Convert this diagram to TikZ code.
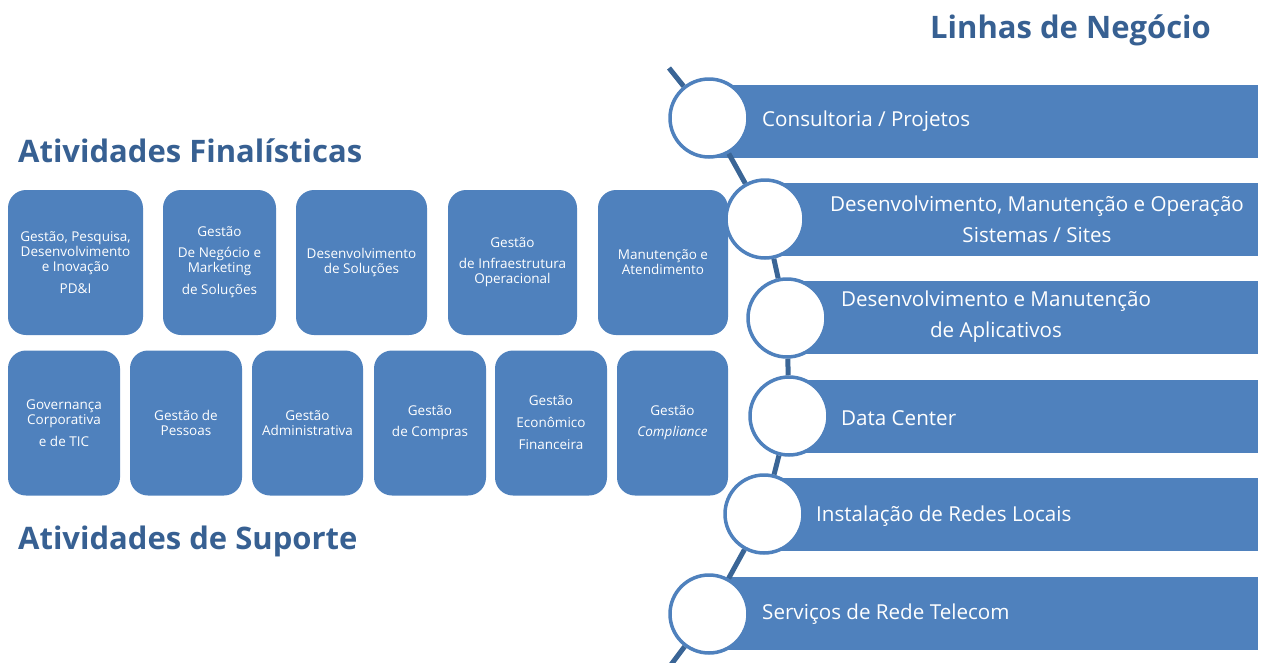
\documentclass[tikz,border=0pt]{standalone}
\usepackage{fontspec}
\setmainfont{Open Sans}
\usetikzlibrary{graphs}
\definecolor{caixa}{HTML}{4F81BD}
\definecolor{titulo}{HTML}{376092}
\definecolor{eixo}{HTML}{3A6596}
\tikzset{
    atividade/.style ={
        shape=rectangle,
        rounded corners=18pt,
        fill=caixa,
        text=white,
        align=center,
        inner sep=0pt,
        font=\fontsize{13.5}{15}\selectfont,
        minimum height=145pt
    },
    barra/.style ={
        shape=rectangle,
        fill=caixa,
        anchor=west,
        inner sep=0pt,
        minimum height=73pt
    },
    marco/.style ={
        shape=circle,
        draw=caixa,
        line width=3.5pt,
        fill=white,
        inner sep=0pt,
        minimum size=78pt
    },
    linha/.style ={
        text=white,
        align=center,
        inner sep=0pt,
        font=\fontsize{20.6}{31}\selectfont
    },
    cabecalho/.style ={
        anchor=base west,
        text=titulo,
        inner sep=0pt,
        font=\bfseries\fontsize{31}{36}\selectfont
    }
}

\begin{document}
\begin{tikzpicture}[x=1pt,y=-1pt]
    \useasboundingbox (0,0) rectangle (1267,662);
    \node[cabecalho] (negocios) at (930,38) {Linhas de Negócio};
    \node[cabecalho] (finalisticas) at (18,162) {Atividades Finalísticas};
    \node[cabecalho] (suporte) at (18,549) {Atividades de Suporte};
    \node[atividade, minimum width=135pt] (pdi) at (75.5,262.5) {Gestão, Pesquisa,\\Desenvolvimento\\e Inovação\\[7pt]PD\&I};
    \node[atividade, minimum width=113pt] (negocio) at (219.5,262.5) {Gestão\\[6pt]De Negócio e\\Marketing\\[7pt]de Soluções};
    \node[atividade, minimum width=131pt] (solucoes) at (361.5,262.5) {Desenvolvimento\\de Soluções};
    \node[atividade, minimum width=129pt] (infra) at (512.5,262.5) {Gestão\\[6pt]de Infraestrutura\\Operacional};
    \node[atividade, minimum width=130pt] (manutencao) at (663,262.5) {Manutenção e\\Atendimento};
    \node[atividade, minimum width=112pt] (governanca) at (64,423) {Governança\\Corporativa\\[7pt]e de TIC};
    \node[atividade, minimum width=112pt] (pessoas) at (186,423) {Gestão de\\Pessoas};
    \node[atividade, minimum width=111pt] (administrativa) at (307.5,423) {Gestão\\Administrativa};
    \node[atividade, minimum width=112pt] (compras) at (430,423) {Gestão\\[6pt]de Compras};
    \node[atividade, minimum width=112pt] (financeira) at (551,423) {Gestão\\[7pt]Econômico\\[7pt]Financeira};
    \node[atividade, minimum width=111pt] (compliance) at (672.5,423) {Gestão\\[6pt]\textit{Compliance}};
    \node[barra, minimum width=549pt] (b1) at (709,121) {};
    \node[barra, minimum width=493pt] (b2) at (765,219.5) {};
    \node[barra, minimum width=471pt] (b3) at (787,317.5) {};
    \node[barra, minimum width=469pt] (b4) at (789,416) {};
    \node[barra, minimum width=494pt] (b5) at (764,514.5) {};
    \node[barra, minimum width=549pt] (b6) at (709,613.5) {};
    \node[marco] (consultoria) at (709,118) {};
    \node[marco] (sistemas) at (765,219) {};
    \node[marco] (aplicativos) at (787,318) {};
    \node[marco] (datacenter) at (789,416) {};
    \node[marco] (redes) at (764,514) {};
    \node[marco] (telecom) at (709,614) {};
    \node[linha, anchor=west] at (762,121) {Consultoria / Projetos};
    \node[linha] at (1037,219) {Desenvolvimento, Manutenção e Operação\\Sistemas / Sites};
    \node[linha] at (996,317) {Desenvolvimento e Manutenção\\de Aplicativos};
    \node[linha, anchor=west] at (841,418) {Data Center};
    \node[linha, anchor=west] at (816,516) {Instalação de Redes Locais};
    \node[linha, anchor=west] at (762,614) {Serviços de Rede Telecom};
    \coordinate (topo) at (669,68);
    \coordinate (base) at (649,694);
    \graph[edges={draw=eixo, line width=5pt}]{
        (topo)--(consultoria)--(sistemas)--(aplicativos)--(datacenter)--(redes)--(telecom)--(base);
    };
\end{tikzpicture}
\end{document}
